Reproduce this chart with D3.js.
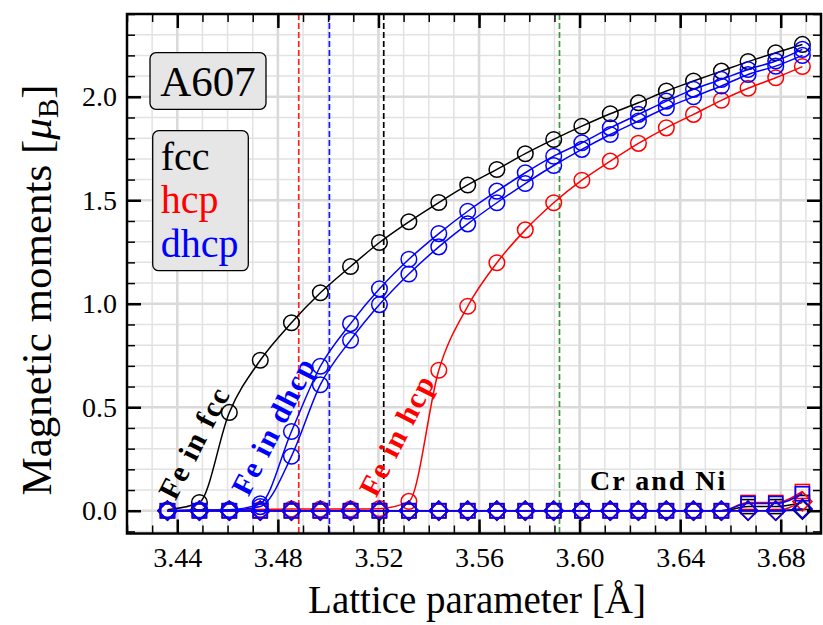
<!DOCTYPE html>
<html>
<head>
<meta charset="utf-8">
<script src="https://cdn.jsdelivr.net/npm/d3@7/dist/d3.min.js"></script>
<style>
  html, body { margin: 0; padding: 0; background: #fff; }
  svg { display: block; }
  text { font-family: "Liberation Serif", "DejaVu Serif", serif; }
</style>
</head>
<body>
<svg id="chart" width="823" height="625"></svg>
<script>
// Lattice parameters (Å) of the computed structures
const latticeA = [3.4361, 3.4488, 3.4607, 3.4730, 3.4854, 3.4969, 3.5089, 3.5204, 3.5321, 3.5440,
                  3.5555, 3.5671, 3.5784, 3.5897, 3.6009, 3.6122, 3.6234, 3.6345, 3.6453, 3.6564,
                  3.6670, 3.6780, 3.6886];

// Fe magnetic moments (μB)
const fccFe   = [0.005, 0.040, 0.475, 0.727, 0.908, 1.053, 1.180, 1.296, 1.396, 1.489,
                 1.574, 1.649, 1.725, 1.794, 1.858, 1.918, 1.971, 2.028, 2.076, 2.124,
                 2.170, 2.213, 2.253];
const hcpFe   = [0.000, 0.002, 0.004, 0.006, 0.008, 0.008, 0.008, 0.010, 0.045, 0.679,
                 0.988, 1.198, 1.357, 1.488, 1.597, 1.689, 1.775, 1.850, 1.915, 1.983,
                 2.041, 2.092, 2.146];
const dhcpFe1 = [0.000, 0.003, 0.005, 0.034, 0.383, 0.698, 0.904, 1.072, 1.215, 1.339,
                 1.447, 1.544, 1.633, 1.713, 1.778, 1.850, 1.915, 1.979, 2.036, 2.084,
                 2.132, 2.173, 2.229];
const dhcpFe2 = [0.000, 0.002, 0.004, 0.020, 0.263, 0.609, 0.824, 0.996, 1.144, 1.275,
                 1.386, 1.488, 1.581, 1.668, 1.746, 1.818, 1.883, 1.947, 2.000, 2.052,
                 2.108, 2.148, 2.200];

// Cr and Ni magnetic moments (μB)
const fccCr  = [0, 0, 0, 0, 0, 0, 0, 0, 0, 0, 0, 0, 0, 0, 0, 0, 0, 0, 0, 0, 0.020, 0.020, 0.040];
const fccNi  = [0, 0, 0, 0, 0, 0, 0, 0, 0, 0, 0, 0, 0, 0, 0, 0, 0, 0, 0, 0, 0.000, 0.000, 0.005];
const hcpCr  = [0, 0, 0, 0, 0, 0, 0, 0, 0, 0, 0, 0, 0, 0, 0, 0, 0, 0, 0, 0, 0.040, 0.040, 0.093];
const hcpNi  = [0, 0, 0, 0, 0, 0, 0, 0, 0, 0, 0, 0, 0, 0, 0, 0, 0, 0, 0, 0, 0.000, 0.000, 0.045];
const dhcpCr = [0, 0, 0, 0, 0, 0, 0, 0, 0, 0, 0, 0, 0, 0, 0, 0, 0, 0, 0, 0, 0.035, 0.035, 0.082];
const dhcpNi = [0, 0, 0, 0, 0, 0, 0, 0, 0, 0, 0, 0, 0, 0, 0, 0, 0, 0, 0, 0, 0.000, 0.000, 0.010];

// Transition lattice parameters marked with dashed lines
const markerLines = [
  { a: 3.4883, color: "#ff2020" },
  { a: 3.5005, color: "#1515ff" },
  { a: 3.5221, color: "#000000" },
  { a: 3.5920, color: "#3a9a3a" }
];

const xTicks = [3.44, 3.48, 3.52, 3.56, 3.60, 3.64, 3.68];
const yTicks = [0.0, 0.5, 1.0, 1.5, 2.0];
const phaseNames = ["fcc", "hcp", "dhcp"];
const phaseColors = ["#000000", "#ff0000", "#0000ff"];

const svg = d3.select("#chart");
const L = 127, R = 821, T = 14, B = 533.5;

const x = d3.scaleLinear().domain([3.42, 3.696]).range([L, R]);
const y = d3.scaleLinear().domain([-0.11, 2.40]).range([B, T]);

const xMinor = d3.range(3.42, 3.6961, 0.01).map(v => +v.toFixed(2));
const yMinor = d3.range(-0.1, 2.401, 0.1).map(v => +v.toFixed(1));

// grid
const grid = svg.append("g");
grid.selectAll(".vminor").data(xMinor).join("line")
  .attr("x1", d => x(d)).attr("x2", d => x(d)).attr("y1", T).attr("y2", B)
  .attr("stroke", "#e2e2e2").attr("stroke-width", 1.5);
grid.selectAll(".hminor").data(yMinor).join("line")
  .attr("y1", d => y(d)).attr("y2", d => y(d)).attr("x1", L).attr("x2", R)
  .attr("stroke", "#e2e2e2").attr("stroke-width", 1.5);
grid.selectAll(".vmajor").data(xTicks).join("line")
  .attr("x1", d => x(d)).attr("x2", d => x(d)).attr("y1", T).attr("y2", B)
  .attr("stroke", "#dadada").attr("stroke-width", 2.6);
grid.selectAll(".hmajor").data(yTicks).join("line")
  .attr("y1", d => y(d)).attr("y2", d => y(d)).attr("x1", L).attr("x2", R)
  .attr("stroke", "#dadada").attr("stroke-width", 2.6);

// dashed vertical reference lines
svg.append("g").selectAll("line").data(markerLines).join("line")
  .attr("x1", d => x(d.a)).attr("x2", d => x(d.a)).attr("y1", T).attr("y2", B)
  .attr("stroke", d => d.color).attr("stroke-width", 1.7)
  .attr("stroke-dasharray", "6,3");

const line = d3.line().x(d => x(d[0])).y(d => y(d[1])).curve(d3.curveMonotoneX);
const plot = svg.append("g");

function drawSeries(values, color, shape) {
  const pts = latticeA.map((a, i) => [a, values[i]]);
  plot.append("path").datum(pts)
    .attr("d", line).attr("fill", "none")
    .attr("stroke", color).attr("stroke-width", 1.5);
  const g = plot.append("g");
  if (shape === "circle") {
    g.selectAll("circle").data(pts).join("circle")
      .attr("cx", d => x(d[0])).attr("cy", d => y(d[1])).attr("r", 7.8)
      .attr("fill", "none").attr("stroke", color).attr("stroke-width", 1.5);
  } else if (shape === "square") {
    g.selectAll("rect").data(pts).join("rect")
      .attr("x", d => x(d[0]) - 7).attr("y", d => y(d[1]) - 7)
      .attr("width", 14).attr("height", 14)
      .attr("fill", "none").attr("stroke", color).attr("stroke-width", 1.6);
  } else {
    g.selectAll("path").data(pts).join("path")
      .attr("d", d => {
        const cx = x(d[0]), cy = y(d[1]), s = 9.5;
        return `M${cx},${cy - s}L${cx + s},${cy}L${cx},${cy + s}L${cx - s},${cy}Z`;
      })
      .attr("fill", "none").attr("stroke", color).attr("stroke-width", 1.6);
  }
}

// fcc
drawSeries(fccFe, phaseColors[0], "circle");
drawSeries(fccCr, phaseColors[0], "square");
drawSeries(fccNi, phaseColors[0], "diamond");
// hcp
drawSeries(hcpFe, phaseColors[1], "circle");
drawSeries(hcpCr, phaseColors[1], "square");
drawSeries(hcpNi, phaseColors[1], "diamond");
// dhcp (two Fe sites)
drawSeries(dhcpFe1, phaseColors[2], "circle");
drawSeries(dhcpFe2, phaseColors[2], "circle");
drawSeries(dhcpCr, phaseColors[2], "square");
drawSeries(dhcpNi, phaseColors[2], "diamond");

// axes with inward ticks on all four sides
function styleAxis(g, width) {
  g.select(".domain").remove();
  g.selectAll(".tick line").attr("stroke", "#000").attr("stroke-width", width);
}
const axes = svg.append("g");
axes.append("g").attr("transform", `translate(0,${B})`)
  .call(d3.axisBottom(x).tickValues(xMinor).tickSizeInner(-8).tickSizeOuter(0).tickFormat(""))
  .call(g => styleAxis(g, 1.5));
axes.append("g").attr("transform", `translate(0,${T})`)
  .call(d3.axisTop(x).tickValues(xMinor).tickSizeInner(-8).tickSizeOuter(0).tickFormat(""))
  .call(g => styleAxis(g, 1.5));
axes.append("g").attr("transform", `translate(${L},0)`)
  .call(d3.axisLeft(y).tickValues(yMinor).tickSizeInner(-8).tickSizeOuter(0).tickFormat(""))
  .call(g => styleAxis(g, 1.5));
axes.append("g").attr("transform", `translate(${R},0)`)
  .call(d3.axisRight(y).tickValues(yMinor).tickSizeInner(-8).tickSizeOuter(0).tickFormat(""))
  .call(g => styleAxis(g, 1.5));

const xAxis = axes.append("g").attr("transform", `translate(0,${B})`)
  .call(d3.axisBottom(x).tickValues(xTicks).tickSizeInner(-14).tickSizeOuter(0)
    .tickPadding(12).tickFormat(d3.format(".2f")))
  .call(g => styleAxis(g, 2.5));
xAxis.selectAll(".tick text").attr("font-size", 28).attr("fill", "#000")
  .attr("font-family", "Liberation Serif").attr("dy", "0.75em");
axes.append("g").attr("transform", `translate(0,${T})`)
  .call(d3.axisTop(x).tickValues(xTicks).tickSizeInner(-14).tickSizeOuter(0).tickFormat(""))
  .call(g => styleAxis(g, 2.5));
const yAxis = axes.append("g").attr("transform", `translate(${L},0)`)
  .call(d3.axisLeft(y).tickValues(yTicks).tickSizeInner(-14).tickSizeOuter(0)
    .tickPadding(10).tickFormat(d3.format(".1f")))
  .call(g => styleAxis(g, 2.5));
yAxis.selectAll(".tick text").attr("font-size", 28).attr("fill", "#000")
  .attr("font-family", "Liberation Serif");
axes.append("g").attr("transform", `translate(${R},0)`)
  .call(d3.axisRight(y).tickValues(yTicks).tickSizeInner(-14).tickSizeOuter(0).tickFormat(""))
  .call(g => styleAxis(g, 2.5));

// frame
svg.append("rect").attr("x", L).attr("y", T).attr("width", R - L).attr("height", B - T)
  .attr("fill", "none").attr("stroke", "#000").attr("stroke-width", 2.5);

// axis titles
svg.append("text")
  .attr("x", 477).attr("y", 613)
  .attr("text-anchor", "middle").attr("font-size", 39)
  .text("Lattice parameter [Å]");

const yt = svg.append("text")
  .attr("transform", `translate(51,${290}) rotate(-90)`)
  .attr("text-anchor", "middle").attr("font-size", 43);
yt.append("tspan").text("Magnetic moments [");
yt.append("tspan").attr("font-style", "italic").text("μ");
yt.append("tspan").attr("font-size", 29).attr("dy", 7).text("B");
yt.append("tspan").attr("dy", -7).text("]");

// in-plot annotations
const notes = [
  { text: "Fe in fcc",  a: 3.4466, m: 0.330, color: "#000" },
  { text: "Fe in dhcp", a: 3.4781, m: 0.410, color: "#0000ff" },
  { text: "Fe in hcp",  a: 3.5273, m: 0.366, color: "#ff0000" }
];
svg.append("g").selectAll("text").data(notes).join("text")
  .attr("transform", d => `translate(${x(d.a)},${y(d.m)}) rotate(-63)`)
  .attr("text-anchor", "middle").attr("dy", "0.35em")
  .attr("font-size", 30).attr("font-weight", "bold").attr("letter-spacing", 1.5)
  .attr("fill", d => d.color).text(d => d.text);

svg.append("text")
  .attr("x", 590).attr("y", 490)
  .attr("font-size", 28).attr("font-weight", "bold").attr("letter-spacing", 2)
  .text("Cr and Ni");

// label box
svg.append("rect").attr("x", 150).attr("y", 52.7).attr("width", 116).attr("height", 56.6)
  .attr("rx", 6).attr("fill", "#e6e6e6").attr("stroke", "#000").attr("stroke-width", 1.3);
svg.append("text").attr("x", 208).attr("y", 96).attr("text-anchor", "middle")
  .attr("font-size", 43).text("A607");

// phase legend
svg.append("rect").attr("x", 152.7).attr("y", 130.7).attr("width", 95.6).attr("height", 140)
  .attr("rx", 6).attr("fill", "#e6e6e6").attr("stroke", "#000").attr("stroke-width", 1.3);
svg.append("g").selectAll("text").data(phaseNames).join("text")
  .attr("x", 160.7).attr("y", (d, i) => 170 + i * 43.3)
  .attr("font-size", 40).attr("fill", (d, i) => phaseColors[i]).text(d => d);
</script>
</body>
</html>
